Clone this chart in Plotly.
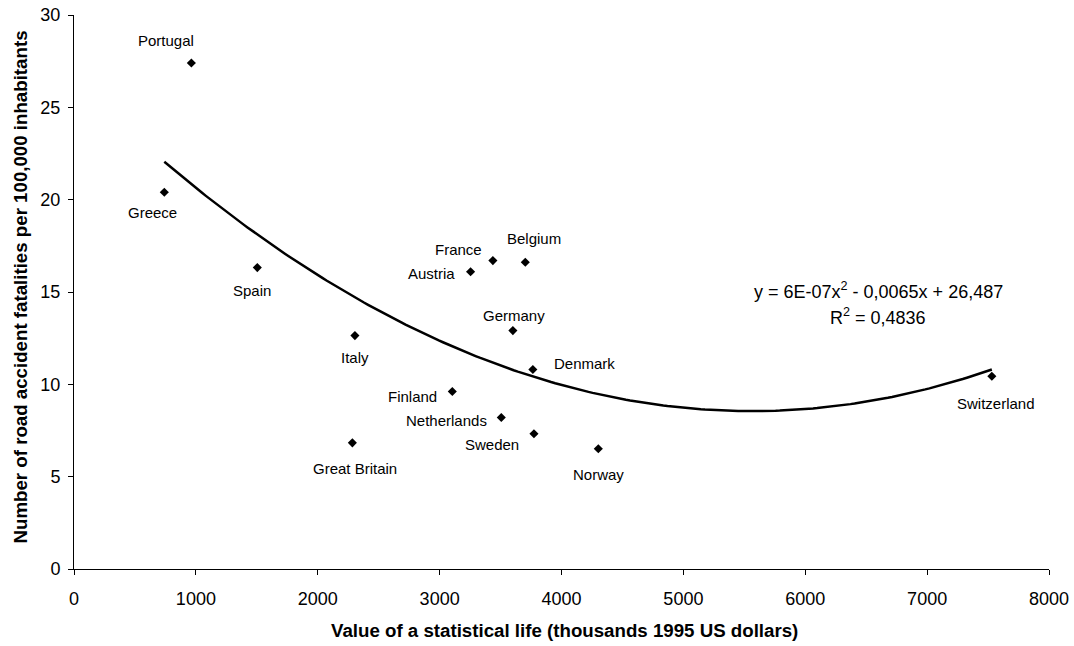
import numpy as np
import plotly.graph_objects as go

countries = ["Portugal", "Greece", "Spain", "Italy", "Great Britain", "Austria", "France",
             "Belgium", "Germany", "Denmark", "Finland", "Netherlands", "Sweden", "Norway",
             "Switzerland"]
vsl = [963, 741, 1504, 2305, 2284, 3254, 3437, 3703, 3601, 3765, 3104, 3506, 3774, 4302, 7531]
fatalities = [27.40, 20.40, 16.32, 12.64, 6.83, 16.10, 16.70, 16.61, 12.91, 10.80, 9.61, 8.20,
              7.32, 6.51, 10.44]
x_ticks = [0, 1000, 2000, 3000, 4000, 5000, 6000, 7000, 8000]
y_ticks = [0, 5, 10, 15, 20, 25, 30]
equation_lines = ["y = 6E-07x<sup>2</sup> - 0,0065x + 26,487", "R<sup>2</sup> = 0,4836"]
x_title = "<b>Value of a statistical life (thousands 1995 US dollars)</b>"
y_title = "<b>Number of road accident fatalities per 100,000 inhabitants</b>"

# label offsets in pixels (dx, dy) relative to each marker (style only)
label_offsets = {
    "Portugal": (-25, -23), "Greece": (-12, 20), "Spain": (-5, 23), "Italy": (0, 22),
    "Great Britain": (3, 26), "Austria": (-39, 2), "France": (-34, -11), "Belgium": (9, -24),
    "Germany": (1, -15), "Denmark": (52, -6), "Finland": (-40, 5), "Netherlands": (-55, 3),
    "Sweden": (-42, 11), "Norway": (0, 26), "Switzerland": (4, 27),
}

FONT = "Liberation Sans, Arial, sans-serif"
W, H = 1074, 646
ML, MR, MT, MB = 74, 25, 15, 77
PW, PH = W - ML - MR, H - MT - MB


def px_to_paper(px, py):
    return (px - ML) / PW, (H - MB - py) / PH


coef = np.polyfit(vsl, fatalities, 2)
xs = np.linspace(min(vsl), max(vsl), 200)
ys = np.polyval(coef, xs)

fig = go.Figure()
fig.add_trace(go.Scatter(x=xs, y=ys, mode="lines",
                         line=dict(color="black", width=2.5), hoverinfo="skip",
                         showlegend=False))
fig.add_trace(go.Scatter(x=vsl, y=fatalities, mode="markers",
                         marker=dict(symbol="diamond", size=7, color="black"),
                         text=countries, showlegend=False))

for c, xv, yv in zip(countries, vsl, fatalities):
    dx, dy = label_offsets[c]
    fig.add_annotation(x=xv, y=yv, text=c, showarrow=False, xshift=dx, yshift=-dy,
                       xanchor="center", yanchor="middle",
                       font=dict(family=FONT, size=15, color="black"))

for line, py in zip(equation_lines, [290.7, 316.7]):
    ex, ey = px_to_paper(878, py)
    fig.add_annotation(xref="paper", yref="paper", x=ex, y=ey, text=line, showarrow=False,
                       xanchor="center", yanchor="middle",
                       font=dict(family=FONT, size=18, color="black"))

tx, ty = px_to_paper(564, 630)
fig.add_annotation(xref="paper", yref="paper", x=tx, y=ty, text=x_title, showarrow=False,
                   xanchor="center", yanchor="middle",
                   font=dict(family=FONT, size=18.7, color="black"))
tx, ty = px_to_paper(20, 287.5)
fig.add_annotation(xref="paper", yref="paper", x=tx, y=ty, text=y_title, showarrow=False,
                   xanchor="center", yanchor="middle", textangle=-90,
                   font=dict(family=FONT, size=18.7, color="black"))

fig.update_layout(
    width=W, height=H,
    margin=dict(l=ML, r=MR, t=MT, b=MB),
    paper_bgcolor="white", plot_bgcolor="white",
    font=dict(family=FONT, color="black"),
    xaxis=dict(range=[0, 8000], tickvals=x_ticks, showgrid=False, zeroline=False,
               showline=True, linecolor="black", linewidth=1, ticks="outside",
               ticklen=5, tickcolor="black", tickfont=dict(size=18, family=FONT),
               ticklabelstandoff=8, automargin=False),
    yaxis=dict(range=[0, 30], tickvals=y_ticks, showgrid=False, zeroline=False,
               showline=True, linecolor="black", linewidth=1, ticks="outside",
               ticklen=5, tickcolor="black", tickfont=dict(size=18, family=FONT),
               ticklabelstandoff=4, automargin=False),
)

fig.write_html("out.html", config={"displayModeBar": False},
               post_script="document.body.style.margin='0px';document.body.style.overflow='hidden';")
